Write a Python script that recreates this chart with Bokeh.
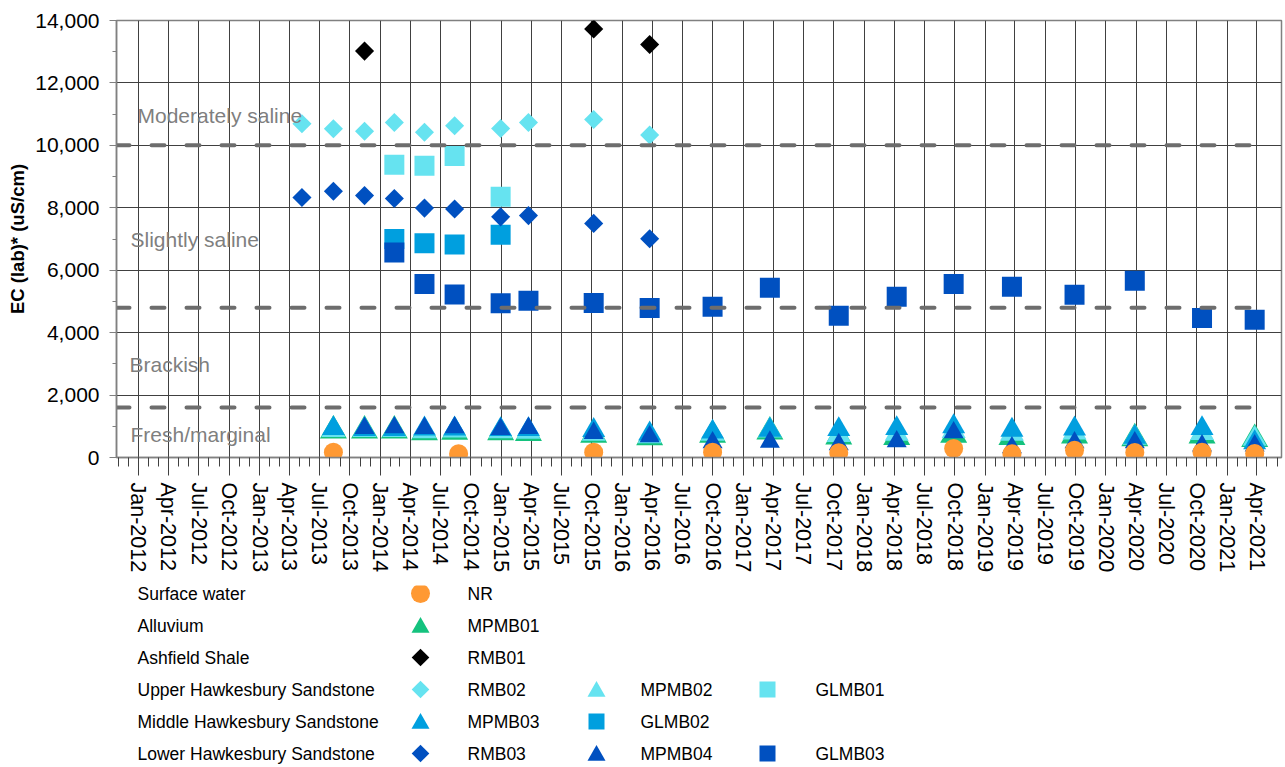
import numpy as np
import pandas as pd
from datetime import datetime
from bokeh.plotting import figure
from bokeh.layouts import column
from bokeh.models import (Range1d, FixedTicker, DatetimeTickFormatter,
                          NumeralTickFormatter, SingleIntervalTicker, ColumnDataSource)
from bokeh.core.properties import value
from bokeh.embed import file_html
from bokeh.resources import INLINE

# ---------------- data (EC lab, uS/cm) ----------------
nr_dates = ["2013-08-12", "2014-08-25", "2015-10-07", "2016-09-30", "2017-10-16", "2018-09-28",
            "2019-03-23", "2019-09-28", "2020-03-28", "2020-10-17", "2021-03-25"]
nr_ec = [170, 120, 170, 170, 150, 290, 120, 230, 160, 170, 130]

mpmb_dates = ["2013-08-12", "2013-11-14", "2014-02-12", "2014-05-14", "2014-08-13", "2014-12-30",
              "2015-03-24", "2015-10-07", "2016-03-24", "2016-09-30", "2017-03-22", "2017-10-16",
              "2018-04-09", "2018-09-28", "2019-03-23", "2019-09-28", "2020-03-28", "2020-10-17",
              "2021-03-25"]
mpmb01_ec = [860, 860, 860, 800, 820, 800, 780, 720, 640, 720, 830, 670, 650, 720, 650, 700, 610, 700, 590]
mpmb02_ec = [880, 880, 880, 840, 860, 840, 820, 760, 680, 760, 860, 720, 760, 850, 760, 800, 630, 780, 600]
mpmb03_ec = [930, 900, 900, 920, 920, 900, 900, 870, 760, 820, 880, 900, 930, 990, 880, 920, 650, 930, 480]
mpmb04_dates = ["2013-11-14", "2014-02-12", "2014-05-14", "2014-08-13", "2014-12-30",
                "2015-03-24", "2015-10-07", "2016-03-24", "2016-09-30", "2017-03-22", "2017-10-16",
                "2018-04-09", "2018-09-28", "2019-03-23", "2019-09-28", "2020-03-28", "2020-10-17",
                "2021-03-25"]
mpmb04_ec = [940, 960, 940, 960, 905, 940, 780, 670, 480, 500, 420, 510, 800, 320, 480, 480, 380, 380]

rmb01_dates = ["2013-11-14", "2015-10-07", "2016-03-24"]
rmb01_ec = [13020, 13730, 13230]
rmb_dates = ["2013-05-09", "2013-08-12", "2013-11-14", "2014-02-12", "2014-05-14", "2014-08-13",
             "2014-12-30", "2015-03-24", "2015-10-07", "2016-03-24"]
rmb02_ec = [10690, 10530, 10450, 10730, 10420, 10630, 10540, 10730, 10830, 10330]
rmb03_ec = [8330, 8530, 8390, 8300, 7990, 7960, 7710, 7750, 7500, 7010]

glmb_dates = ["2014-02-12", "2014-05-14", "2014-08-13", "2014-12-30"]
glmb01_ec = [9380, 9350, 9660, 8350]
glmb02_ec = [7000, 6860, 6820, 7140]
glmb03_dates = ["2014-02-12", "2014-05-14", "2014-08-13", "2014-12-30", "2015-03-24", "2015-10-07",
                "2016-03-24", "2016-09-30", "2017-03-22", "2017-10-16", "2018-04-09", "2018-09-28",
                "2019-03-23", "2019-09-28", "2020-03-28", "2020-10-17", "2021-03-25"]
glmb03_ec = [6570, 5560, 5220, 4940, 5020, 4950, 4790, 4830, 5440, 4540, 5150, 5560, 5470, 5210,
             5660, 4470, 4410]

thresholds = [10000, 4800, 1600]
zone_labels = ["Moderately saline", "Slightly saline", "Brackish", "Fresh/marginal"]
zone_label_y = [10950, 6980, 2970, 750]

legend_groups = ["Surface water", "Alluvium", "Ashfield Shale", "Upper Hawkesbury Sandstone",
                 "Middle Hawkesbury Sandstone", "Lower Hawkesbury Sandstone"]
legend_entries = [["NR"], ["MPMB01"], ["RMB01"], ["RMB02", "MPMB02", "GLMB01"],
                  ["MPMB03", "GLMB02"], ["RMB03", "MPMB04", "GLMB03"]]

y_title = "EC (lab)* (uS/cm)"
x_tick_format = "%b-%Y"

# ---------------- styles ----------------
FONT = "Liberation Sans"
ORANGE, GREEN, CYAN, MID, DARK, BLACK = "#FF9933", "#14C27E", "#66E3F0", "#009FDF", "#0050C0", "#000000"
GRID = "#404040"
AXIS = "#808080"

# name -> (dates, values, marker, color, size, angle)
series = [
    ("GLMB01", glmb_dates, glmb01_ec, "square", CYAN, 20, 0.0),
    ("GLMB02", glmb_dates, glmb02_ec, "square", MID, 20, 0.0),
    ("GLMB03", glmb03_dates, glmb03_ec, "square", DARK, 20, 0.0),
    ("RMB01", rmb01_dates, rmb01_ec, "square", BLACK, 13.5, np.pi / 4),
    ("RMB02", rmb_dates, rmb02_ec, "square", CYAN, 13.5, np.pi / 4),
    ("RMB03", rmb_dates, rmb03_ec, "square", DARK, 13.5, np.pi / 4),
    ("MPMB01", mpmb_dates, mpmb01_ec, "triangle", GREEN, 27, 0.0),
    ("MPMB02", mpmb_dates, mpmb02_ec, "triangle", CYAN, 24, 0.0),
    ("MPMB03", mpmb_dates, mpmb03_ec, "triangle", MID, 23, 0.0),
    ("MPMB04", mpmb04_dates, mpmb04_ec, "triangle", DARK, 20, 0.0),
    ("NR", nr_dates, nr_ec, "circle", ORANGE, 19, 0.0),
]
legend_size = {"square": 16, "triangle": 18, "circle": 19}
legend_diamond = 12.5

x_start = datetime(2011, 10, 27)
x_end = datetime(2021, 6, 14)
thr_end = datetime(2021, 4, 1)

# ---------------- main figure ----------------
W = 1285
BL, BR = 116, 4
p = figure(width=W, height=585, x_axis_type="datetime",
           x_range=Range1d(x_start, x_end), y_range=Range1d(0, 14000),
           toolbar_location=None, output_backend="svg",
           min_border_left=BL, min_border_right=BR, min_border_top=20, min_border_bottom=128)
p.background_fill_color = "white"
p.border_fill_color = "white"
p.outline_line_color = AXIS
p.outline_line_width = 1.5

quarters = pd.date_range("2012-01-01", "2021-04-01", freq="QS")
months = pd.date_range("2011-11-01", "2021-06-01", freq="MS")
to_ms = lambda idx: [float(t.value // 10**6) for t in idx]
p.xaxis.ticker = FixedTicker(ticks=to_ms(quarters), minor_ticks=to_ms(months))
fmt = {k: x_tick_format for k in ["microseconds", "milliseconds", "seconds", "minsec", "minutes",
                                  "hourmin", "hours", "days", "months", "years"]}
p.xaxis.formatter = DatetimeTickFormatter(**fmt)
p.xaxis.major_label_orientation = "vertical"
p.xaxis.major_label_text_font = FONT
p.xaxis.major_label_text_font_size = "21.5px"
p.xaxis.major_label_text_color = "black"
p.xaxis.major_tick_out = 18
p.xaxis.major_tick_in = 0
p.xaxis.minor_tick_out = 9
p.xaxis.minor_tick_in = 0
p.xaxis.major_tick_line_color = GRID
p.xaxis.minor_tick_line_color = GRID
p.xaxis.axis_line_color = AXIS
p.xaxis.axis_line_width = 1.5
p.xaxis.major_label_standoff = 7

p.yaxis.ticker = SingleIntervalTicker(interval=2000, num_minor_ticks=2)
p.yaxis.formatter = NumeralTickFormatter(format="0,0")
p.yaxis.major_label_text_font = FONT
p.yaxis.major_label_text_font_size = "21px"
p.yaxis.major_label_text_color = "black"
p.yaxis.major_tick_out = 7
p.yaxis.major_tick_in = 0
p.yaxis.minor_tick_out = 4
p.yaxis.minor_tick_in = 0
p.yaxis.major_tick_line_color = AXIS
p.yaxis.minor_tick_line_color = AXIS
p.yaxis.axis_line_color = AXIS
p.yaxis.axis_line_width = 1.5
p.yaxis.major_label_standoff = 10
p.yaxis.axis_label = y_title
p.yaxis.axis_label_text_font = FONT
p.yaxis.axis_label_text_font_style = "bold"
p.yaxis.axis_label_text_font_size = "18.5px"
p.yaxis.axis_label_text_color = "black"
p.yaxis.axis_label_standoff = 4

p.xgrid.grid_line_color = GRID
p.ygrid.grid_line_color = GRID
p.xgrid.grid_line_width = 1
p.ygrid.grid_line_width = 1

for name, dates, vals, marker, color, size, angle in series:
    src = ColumnDataSource(dict(x=pd.to_datetime(dates), y=vals))
    p.scatter("x", "y", source=src, marker=marker, size=size, angle=angle,
              fill_color=color, line_color=None)

# salinity class thresholds
p.segment(x0=[x_start] * len(thresholds), y0=thresholds, x1=[thr_end] * len(thresholds),
          y1=thresholds, line_color="#6d6d6d", line_width=4, line_dash="13 22", line_cap="round")

p.text(x=[x_start] * len(zone_labels), y=zone_label_y, text=zone_labels,
       x_offset=[21, 14, 13, 14], text_font=value(FONT), text_font_size="21px",
       text_color="#7f7f7f", text_baseline="middle", text_align="left")

# ---------------- legend figure (page-pixel coordinates) ----------------
LH = 182
lg = figure(width=W, height=LH, x_range=Range1d(BL, W - BR), y_range=Range1d(LH, 0),
            toolbar_location=None, output_backend="svg",
            min_border_left=BL, min_border_right=BR, min_border_top=0, min_border_bottom=0,
            x_axis_location=None, y_axis_location=None)
lg.outline_line_color = None
lg.grid.grid_line_color = None
lg.background_fill_color = "white"
lg.border_fill_color = "white"

style = {s[0]: s for s in series}
row_y = [8 + 32 * i for i in range(len(legend_groups))]
marker_x = [420, 596, 767]
label_x = [467, 640, 815]

lg.text(x=[137] * len(legend_groups), y=row_y, text=legend_groups, text_font=value(FONT),
        text_font_size="17.5px", text_color="black", text_baseline="middle", text_align="left")
for i, entries in enumerate(legend_entries):
    for j, name in enumerate(entries):
        _, _, _, marker, color, size, angle = style[name]
        s = legend_diamond if angle else legend_size[marker]
        dy = 2 if marker == "triangle" else 0
        lg.scatter([marker_x[j]], [row_y[i] + dy], marker=marker, size=s, angle=angle,
                   fill_color=color, line_color=None)
        lg.text(x=[label_x[j]], y=[row_y[i]], text=[name], text_font=value(FONT),
                text_font_size="17.5px", text_color="black", text_baseline="middle",
                text_align="left")

layout = column(p, lg, spacing=0)
open("out.html", "w").write(file_html(layout, INLINE))
